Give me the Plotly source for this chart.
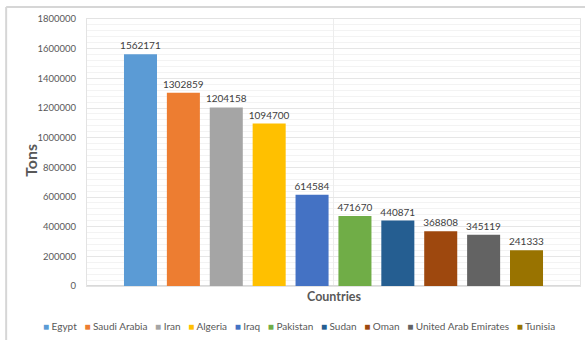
import plotly.graph_objects as go

# Production by country (tons)
countries = ["Egypt", "Saudi Arabia", "Iran", "Algeria", "Iraq", "Pakistan",
             "Sudan", "Oman", "United Arab Emirates", "Tunisia"]
tons = [1562171, 1302859, 1204158, 1094700, 614584, 471670,
        440871, 368808, 345119, 241333]
colors = ["#5B9BD5", "#ED7D31", "#A5A5A5", "#FFC000", "#4472C4", "#70AD47",
          "#255E91", "#9E480E", "#636363", "#997300"]
y_ticks = list(range(0, 1800001, 200000))

FONT = "Lato, 'Open Sans', sans-serif"
TXT = "#595959"

fig = go.Figure()
for name, val, col in zip(countries, tons, colors):
    fig.add_trace(go.Bar(
        x=["Countries"], y=[val], name=name,
        marker=dict(color=col, line=dict(width=0)),
        text=[val], texttemplate="%{text}", textposition="outside",
        constraintext="none",
        textfont=dict(family=FONT, size=10, color="#404040"),
        cliponaxis=False, showlegend=False,
    ))

# legend row built from the same names and colours
legend_text = "&nbsp;&nbsp;&nbsp;".join(
    f"<span style='color:{c};font-size:10px'>■</span> {n}" for n, c in zip(countries, colors)
)

fig.update_layout(
    width=585, height=340,
    margin=dict(l=87, r=5, t=19, b=54),
    paper_bgcolor="white", plot_bgcolor="white",
    barmode="group", bargap=0.13, bargroupgap=0.23,
    font=dict(family=FONT, size=10, color=TXT),
    xaxis=dict(showticklabels=False, showgrid=True, gridcolor="#EDEDED",
               showline=True, linecolor="#E3E3E3", mirror=True, ticks=""),
    yaxis=dict(range=[0, 1800000], tickvals=y_ticks, ticktext=[str(v) for v in y_ticks],
               showgrid=True, gridcolor="#E6E6E6", zeroline=True, zerolinecolor="#D9D9D9",
               showline=True, linecolor="#E3E3E3", mirror=True,
               ticks="", ticklabelstandoff=8,
               minor=dict(dtick=40000, showgrid=True, gridcolor="#F3F3F3"),
               tickfont=dict(family=FONT, size=9.5, color=TXT)),
    annotations=[
        dict(text="<b>Tons</b>", textangle=-90, xref="paper", yref="paper",
             x=-0.115, y=0.47, xanchor="center", yanchor="middle", showarrow=False,
             font=dict(family=FONT, size=16, color=TXT)),
        dict(text="<b>Countries</b>", xref="paper", yref="paper",
             x=0.5, y=-0.005, xanchor="center", yanchor="top", showarrow=False,
             font=dict(family=FONT, size=12.5, color=TXT)),
        dict(text=legend_text, xref="paper", yref="paper",
             x=0.43, y=-0.15, yanchor="middle", xanchor="center", showarrow=False,
             font=dict(family=FONT, size=10, color=TXT)),
    ],
    shapes=[
        # outer chart frame (top and left edges)
        dict(type="line", xref="paper", yref="paper", x0=-0.164, x1=1.02, y0=1.045, y1=1.045,
             line=dict(color="#D6D6D6", width=2)),
        dict(type="line", xref="paper", yref="paper", x0=-0.164, x1=-0.164, y0=1.045, y1=-0.21,
             line=dict(color="#D6D6D6", width=2)),
    ],
)

fig.write_html("out.html")
